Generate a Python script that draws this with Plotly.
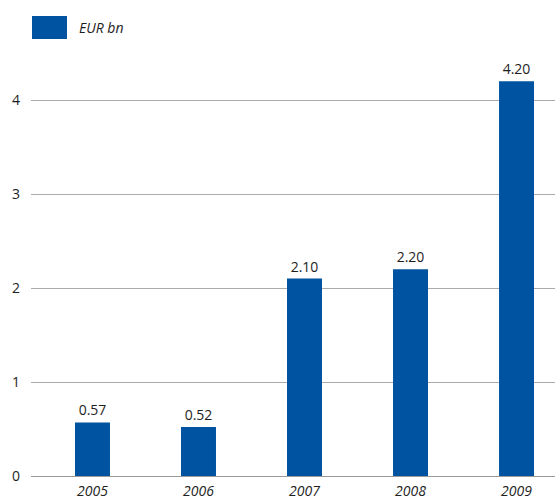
import plotly.graph_objects as go

years = ["2005", "2006", "2007", "2008", "2009"]
values = [0.57, 0.52, 2.10, 2.20, 4.20]
series_name = "EUR bn"
y_ticks = [0, 1, 2, 3, 4]

bar_color = "#0053A0"
font_family = "Open Sans, Noto Sans, sans-serif"
text_color = "#1e1e1e"

# Plot area geometry (pixels)
PLOT_L, PLOT_W = 31, 524
PLOT_B, PLOT_H = 476, 416


def px_x(x):
    return (x - PLOT_L) / PLOT_W


def px_y(y):
    return (PLOT_B - y) / PLOT_H


fig = go.Figure()
fig.add_trace(go.Bar(
    x=years,
    y=values,
    name=series_name,
    marker=dict(color=bar_color, line=dict(width=0)),
    width=0.33,
    text=[f"{v:.2f}" for v in values],
    textposition="outside",
    textfont=dict(size=14, color=text_color, family=font_family),
    cliponaxis=False,
    showlegend=False,
))

# Legend swatch and label
fig.add_shape(type="rect", xref="paper", yref="paper",
              x0=px_x(32), x1=px_x(67), y0=px_y(39), y1=px_y(16),
              fillcolor=bar_color, line=dict(width=0), layer="above")
fig.add_annotation(xref="paper", yref="paper",
                   x=px_x(77), y=px_y(27.5),
                   text=f"<i>{series_name}</i>", showarrow=False,
                   xanchor="left", yanchor="middle",
                   font=dict(size=14, color=text_color, family=font_family))

fig.update_layout(
    width=555, height=500,
    margin=dict(l=PLOT_L, r=555 - PLOT_L - PLOT_W, t=PLOT_B - PLOT_H, b=500 - PLOT_B),
    paper_bgcolor="white", plot_bgcolor="white",
    font=dict(family=font_family, size=14, color=text_color),
    xaxis=dict(
        type="category",
        range=[-0.58, 4.363],
        showgrid=False, showline=False, zeroline=False,
        tickvals=years,
        ticktext=[f"<i>{y}</i>" for y in years],
        ticks="", tickfont=dict(size=14, color=text_color),
        ticklabelstandoff=5,
    ),
    yaxis=dict(
        range=[0, PLOT_H / 94],
        tickvals=y_ticks,
        ticktext=[str(t) for t in y_ticks],
        showgrid=True, gridcolor="#ababab", gridwidth=1,
        zeroline=True, zerolinecolor="#9a9a9a", zerolinewidth=1,
        showline=False, ticks="",
        ticklabelstandoff=10,
        tickfont=dict(size=14, color=text_color),
    ),
)

fig.write_html("out.html")
